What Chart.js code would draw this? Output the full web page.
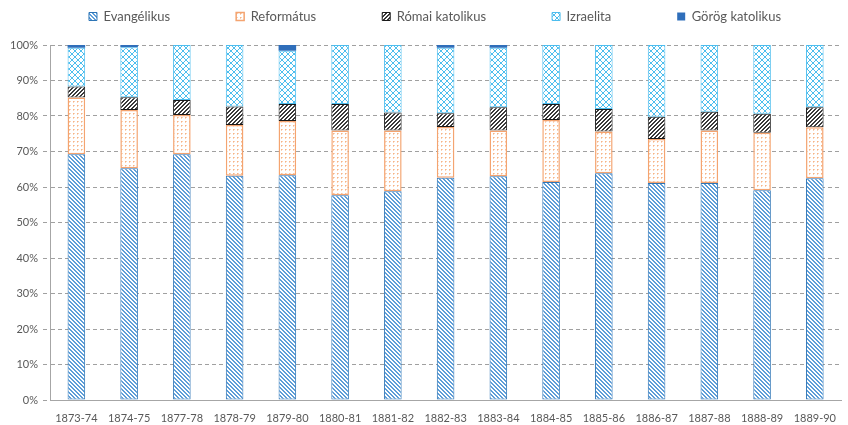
<!DOCTYPE html>
<html><head><meta charset="utf-8">
<script src="https://cdn.jsdelivr.net/npm/chart.js@4/dist/chart.umd.min.js"></script>
<style>html,body{margin:0;padding:0;background:#fff;}#wrap{width:848px;height:425px;}</style>
</head><body><div id="wrap"><canvas id="c" width="848" height="425"></canvas></div>
<script>
const categories = ['1873-74','1874-75','1877-78','1878-79','1879-80','1880-81','1881-82','1882-83','1883-84','1884-85','1885-86','1886-87','1887-88','1888-89','1889-90'];
const seriesNames = ['Evangélikus','Református','Római katolikus','Izraelita','Görög katolikus'];
const evangelikus    = [69.2,65.3,69.2,63.2,63.3,57.7,58.8,62.6,63.0,61.4,63.9,61.1,61.1,59.1,62.5];
const reformatus     = [16.0,16.4,11.1,14.3,15.3,18.2,17.1,14.3,12.9,17.5,11.7,12.4,14.8,16.2,14.3];
const romaiKatolikus = [3.1,3.6,4.2,5.2,4.8,7.5,5.1,3.9,6.6,4.5,6.4,6.3,5.3,5.3,5.7];
const izraelita      = [10.9,14.1,15.5,17.3,15.0,16.6,19.0,18.4,16.7,16.6,18.0,20.2,18.8,19.4,17.5];
const gorogKatolikus = [0.8,0.6,0,0,1.6,0,0,0.8,0.8,0,0,0,0,0,0];
const yTickValues = [0,10,20,30,40,50,60,70,80,90,100];

function makePattern(w, h, draw) {
  const c = document.createElement('canvas');
  c.width = w; c.height = h;
  const x = c.getContext('2d');
  x.fillStyle = '#ffffff'; x.fillRect(0, 0, w, h);
  draw(x);
  return document.getElementById('c').getContext('2d').createPattern(c, 'repeat');
}
const patEv = makePattern(4, 4, x => {
  x.fillStyle = '#5E9ED8';
  for (let i = 0; i < 4; i++) { x.fillRect(i, i, 1, 1); x.fillRect((i + 1) % 4, i, 1, 1); }
});
const patRef = makePattern(4, 4, x => {
  x.fillStyle = '#F5B385';
  x.fillRect(1, 1, 1, 1);
  x.fillStyle = '#FAD3B8';
  x.fillRect(2, 1, 1, 1);
  x.fillRect(1, 2, 1, 1);
});
const patRom = makePattern(4, 4, x => {
  x.fillStyle = '#3A3A3A';
  for (let i = 0; i < 4; i++) { x.fillRect(3 - i, i, 1, 1); x.fillRect((4 - i) % 4, i, 1, 1); }
});
const patIzr = makePattern(6, 6, x => {
  x.fillStyle = '#4DBEEE';
  for (let i = 0; i < 6; i++) { x.fillRect(i, i, 1, 1); x.fillRect(5 - i, i, 1, 1); }
});

const LEG_PAD = 66;
const LEG_TOP = 10;
const ctx = document.getElementById('c').getContext('2d');
const chart = new Chart(ctx, {
  type: 'bar',
  data: {
    labels: categories,
    datasets: [
      { label: seriesNames[0], data: evangelikus, backgroundColor: patEv, borderColor: '#2E75B6', borderWidth: 1, borderSkipped: false },
      { label: seriesNames[1], data: reformatus, backgroundColor: patRef, borderColor: '#F4A470', borderWidth: 1.5, borderSkipped: false },
      { label: seriesNames[2], data: romaiKatolikus, backgroundColor: patRom, borderColor: '#1a1a1a', borderWidth: 1, borderSkipped: false },
      { label: seriesNames[3], data: izraelita, backgroundColor: patIzr, borderColor: '#4DBDEE', borderWidth: 1, borderSkipped: false },
      { label: seriesNames[4], data: gorogKatolikus, backgroundColor: '#2F6EBA', borderColor: '#2F6EBA', borderWidth: 0, borderSkipped: false }
    ]
  },
  options: {
    responsive: false,
    devicePixelRatio: 1,
    animation: false,
    layout: { padding: { top: -LEG_PAD + LEG_TOP, left: 0, right: 0, bottom: 0 } },
    datasets: { bar: { categoryPercentage: 1, barPercentage: 0.333 } },
    plugins: {
      tooltip: { enabled: false },
      legend: {
        position: 'top',
        labels: {
          boxWidth: 8, boxHeight: 8, padding: LEG_PAD,
          color: '#595959',
          font: { family: 'Lato', size: 13 }
        }
      }
    },
    scales: {
      x: {
        stacked: true,
        grid: { display: false, drawTicks: false },
        border: { display: true, color: '#A6A6A6', width: 1 },
        ticks: { color: '#595959', font: { family: 'Lato', size: 11 }, padding: 12, maxRotation: 0, autoSkip: false },
        afterFit: s => { s.height = 25; }
      },
      y: {
        stacked: true,
        min: 0, max: 100,
        afterBuildTicks: s => { s.ticks = yTickValues.map(v => ({ value: v })); },
        grid: { color: '#A0A0A0', lineWidth: 1, tickLength: 7, tickColor: '#A0A0A0', tickBorderDash: [4, 3] },
        border: { display: true, color: '#A6A6A6', width: 1, dash: [4, 3] },
        ticks: { color: '#595959', font: { family: 'Lato', size: 11 }, padding: 5, callback: v => v + '%' },
        afterFit: s => { s.width = 50; }
      }
    }
  },
  plugins: [{
    id: 'legendLayout',
    afterInit(chart) {
      const lg = chart.legend;
      if (!lg) return;
      const f = lg.fit;
      lg.fit = function () { f.call(this); this.height = LEG_PAD - LEG_TOP + 45; };
      const d = lg.draw;
      lg.draw = function () { const c = this.ctx; c.save(); c.translate(11, 0); d.call(this); c.restore(); };
    }
  }]
});
chart.update();
</script></body></html>
